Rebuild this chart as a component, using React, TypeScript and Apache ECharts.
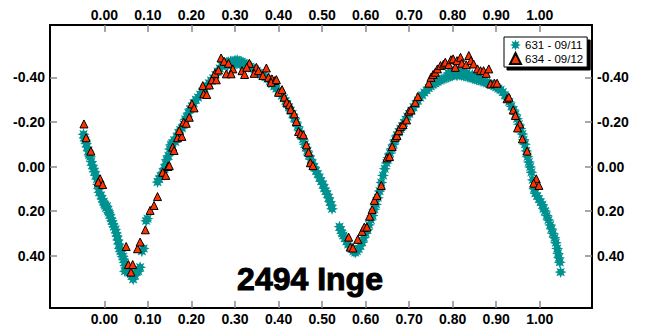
import React, { useEffect, useRef } from 'react';
import * as echarts from 'echarts';

const X_TICKS = [0, 0.1, 0.2, 0.3, 0.4, 0.5, 0.6, 0.7, 0.8, 0.9, 1.0];
const Y_TICKS = [-0.4, -0.2, 0, 0.2, 0.4];
const LEGEND_NAMES = ['631 - 09/11', '634 - 09/12'];
const TITLE = '2494 Inge';

// session 631 (09/11): [phase, magnitude]
const data631: [number, number][] = [
  [-0.048, -0.145], [-0.046, -0.128], [-0.044, -0.118], [-0.042, -0.104], [-0.040, -0.088], [-0.037, -0.070],
  [-0.035, -0.052], [-0.033, -0.044], [-0.030, -0.022], [-0.028, -0.006], [-0.025, 0.010], [-0.023, 0.022],
  [-0.020, 0.040], [-0.017, 0.056], [-0.015, 0.080], [-0.013, 0.100], [-0.012, 0.116], [-0.008, 0.130],
  [-0.005, 0.146], [-0.002, 0.158], [0.000, 0.168], [0.002, 0.176], [0.004, 0.186], [0.006, 0.178],
  [0.008, 0.196], [0.010, 0.206], [0.012, 0.214], [0.015, 0.232], [0.017, 0.244], [0.020, 0.258],
  [0.022, 0.270], [0.025, 0.282], [0.027, 0.298], [0.029, 0.312], [0.031, 0.330], [0.033, 0.348],
  [0.035, 0.368], [0.037, 0.380], [0.040, 0.392], [0.042, 0.404], [0.044, 0.416], [0.046, 0.430],
  [0.048, 0.444], [0.050, 0.456], [0.047, 0.470], [0.052, 0.464], [0.055, 0.472], [0.058, 0.476],
  [0.061, 0.482], [0.063, 0.490], [0.066, 0.506], [0.070, 0.488], [0.074, 0.472], [0.078, 0.470],
  [0.082, 0.452], [0.086, 0.380], [0.090, 0.368], [0.096, 0.244], [0.099, 0.234],
  [0.122, 0.070], [0.126, 0.056], [0.129, 0.044], [0.134, 0.026], [0.138, 0.008], [0.141, -0.010],
  [0.143, -0.030], [0.147, -0.048], [0.150, -0.078], [0.153, -0.098], [0.156, -0.106], [0.160, -0.118],
  [0.163, -0.110], [0.166, -0.132], [0.170, -0.150], [0.174, -0.164], [0.178, -0.172], [0.182, -0.190],
  [0.186, -0.212], [0.189, -0.222], [0.193, -0.240], [0.197, -0.258], [0.201, -0.270], [0.205, -0.284],
  [0.210, -0.300], [0.215, -0.310], [0.220, -0.322], [0.225, -0.336], [0.230, -0.350], [0.235, -0.360],
  [0.240, -0.374], [0.245, -0.386], [0.250, -0.396], [0.255, -0.410], [0.260, -0.426], [0.265, -0.440],
  [0.270, -0.452], [0.272, -0.470], [0.275, -0.458], [0.280, -0.464], [0.283, -0.452], [0.285, -0.468],
  [0.290, -0.472], [0.292, -0.458], [0.295, -0.470], [0.300, -0.476], [0.302, -0.462], [0.305, -0.478],
  [0.310, -0.472], [0.312, -0.456], [0.315, -0.470], [0.320, -0.464], [0.322, -0.448], [0.325, -0.460],
  [0.330, -0.454], [0.335, -0.448], [0.340, -0.440], [0.345, -0.436], [0.350, -0.428], [0.355, -0.420],
  [0.360, -0.414], [0.365, -0.408], [0.370, -0.400], [0.375, -0.394], [0.380, -0.382], [0.385, -0.370],
  [0.390, -0.360], [0.395, -0.350], [0.400, -0.340], [0.404, -0.330], [0.408, -0.318], [0.412, -0.306],
  [0.416, -0.294], [0.420, -0.280], [0.424, -0.266], [0.428, -0.250], [0.432, -0.236], [0.436, -0.218],
  [0.440, -0.200], [0.444, -0.180], [0.448, -0.160], [0.452, -0.140], [0.456, -0.122], [0.460, -0.100],
  [0.463, -0.086], [0.466, -0.070], [0.470, -0.050], [0.474, -0.032], [0.478, -0.014], [0.482, 0.002],
  [0.486, 0.020], [0.490, 0.034], [0.494, 0.050], [0.498, 0.066], [0.502, 0.080], [0.505, 0.098],
  [0.508, 0.110], [0.512, 0.124], [0.515, 0.140], [0.518, 0.158], [0.521, 0.174], [0.523, 0.190],
  [0.540, 0.270], [0.543, 0.286], [0.546, 0.300], [0.549, 0.310], [0.552, 0.322], [0.556, 0.336],
  [0.560, 0.350], [0.564, 0.360], [0.568, 0.370], [0.572, 0.380], [0.576, 0.386], [0.580, 0.380],
  [0.584, 0.370], [0.588, 0.356], [0.592, 0.340], [0.596, 0.320], [0.600, 0.300], [0.604, 0.284],
  [0.608, 0.262], [0.612, 0.240], [0.616, 0.220], [0.620, 0.192], [0.624, 0.170], [0.628, 0.140],
  [0.632, 0.110], [0.636, 0.072], [0.640, 0.040], [0.644, 0.010], [0.648, -0.016], [0.652, -0.040],
  [0.656, -0.060], [0.660, -0.080], [0.664, -0.100], [0.668, -0.120], [0.672, -0.140], [0.676, -0.154],
  [0.680, -0.170], [0.684, -0.180], [0.688, -0.196], [0.692, -0.210], [0.696, -0.224], [0.700, -0.236],
  [0.705, -0.250], [0.710, -0.266], [0.715, -0.280], [0.720, -0.296], [0.725, -0.310], [0.730, -0.320],
  [0.735, -0.332], [0.740, -0.342], [0.745, -0.352], [0.750, -0.360], [0.755, -0.368], [0.760, -0.374],
  [0.765, -0.380], [0.770, -0.386], [0.775, -0.390], [0.780, -0.394], [0.785, -0.398], [0.790, -0.402],
  [0.790, -0.420], [0.795, -0.406], [0.800, -0.408], [0.800, -0.425], [0.805, -0.412], [0.810, -0.408],
  [0.812, -0.428], [0.815, -0.412], [0.820, -0.410], [0.822, -0.424], [0.825, -0.408], [0.830, -0.406],
  [0.832, -0.420], [0.835, -0.402], [0.840, -0.400], [0.845, -0.396], [0.845, -0.412], [0.850, -0.394],
  [0.855, -0.390], [0.860, -0.388], [0.860, -0.402], [0.865, -0.384], [0.870, -0.382], [0.875, -0.378],
  [0.880, -0.374], [0.885, -0.372], [0.890, -0.366], [0.895, -0.362], [0.900, -0.356], [0.905, -0.350],
  [0.910, -0.344], [0.915, -0.334], [0.920, -0.320], [0.925, -0.304], [0.930, -0.290], [0.935, -0.270],
  [0.940, -0.254], [0.944, -0.234], [0.948, -0.214], [0.952, -0.190], [0.956, -0.170], [0.960, -0.146],
  [0.963, -0.120], [0.966, -0.100], [0.969, -0.070], [0.972, -0.044], [0.975, -0.020], [0.978, 0.002],
  [0.981, 0.026], [0.984, 0.060], [0.987, 0.100], [0.990, 0.120], [0.994, 0.132], [0.998, 0.146],
  [1.002, 0.160], [1.006, 0.172], [1.009, 0.190], [1.012, 0.200], [1.016, 0.220], [1.020, 0.240],
  [1.024, 0.262], [1.027, 0.280], [1.030, 0.300], [1.034, 0.320], [1.037, 0.342], [1.040, 0.368],
  [1.042, 0.390], [1.044, 0.410], [1.046, 0.430], [1.048, 0.474],
];

// session 634 (09/12): [phase, magnitude]
const data634: [number, number][] = [
  [-0.047, -0.191], [-0.042, -0.129], [-0.031, -0.069], [-0.010, 0.055], [-0.014, 0.070], [-0.004, 0.081],
  [0.050, 0.359], [0.055, 0.440], [0.065, 0.440], [0.061, 0.474], [0.076, 0.369], [0.082, 0.339],
  [0.094, 0.284], [0.105, 0.197], [0.114, 0.175], [0.122, 0.135], [0.134, 0.026], [0.141, 0.040],
  [0.146, 0.000], [0.149, -0.004], [0.157, -0.087], [0.160, -0.072], [0.168, -0.129], [0.178, -0.135],
  [0.172, -0.161], [0.182, -0.199], [0.188, -0.194], [0.195, -0.221], [0.201, -0.281], [0.206, -0.263],
  [0.228, -0.326], [0.235, -0.323], [0.226, -0.363], [0.241, -0.366], [0.247, -0.389], [0.257, -0.389],
  [0.254, -0.418], [0.262, -0.433], [0.268, -0.487], [0.275, -0.472], [0.285, -0.463], [0.295, -0.438],
  [0.280, -0.416], [0.291, -0.416], [0.316, -0.430], [0.322, -0.413], [0.333, -0.463], [0.327, -0.445],
  [0.349, -0.445], [0.344, -0.418], [0.354, -0.430], [0.364, -0.408], [0.372, -0.442], [0.377, -0.400],
  [0.385, -0.393], [0.392, -0.386], [0.383, -0.378], [0.395, -0.390], [0.400, -0.333], [0.408, -0.345],
  [0.413, -0.311], [0.419, -0.288], [0.425, -0.277], [0.428, -0.256], [0.436, -0.236], [0.441, -0.202],
  [0.446, -0.157], [0.451, -0.147], [0.457, -0.142], [0.464, -0.097], [0.469, -0.064], [0.473, -0.017],
  [0.479, -0.004],
  [0.561, 0.317], [0.565, 0.362], [0.571, 0.366], [0.582, 0.327], [0.592, 0.291], [0.597, 0.272],
  [0.603, 0.272], [0.609, 0.223], [0.615, 0.193], [0.620, 0.152], [0.626, 0.130], [0.636, 0.085],
  [0.649, -0.039], [0.655, -0.045], [0.661, -0.090], [0.668, -0.131], [0.672, -0.139], [0.676, -0.161],
  [0.680, -0.179], [0.686, -0.188], [0.694, -0.209], [0.699, -0.248], [0.704, -0.254], [0.714, -0.288],
  [0.720, -0.314], [0.745, -0.374], [0.750, -0.400], [0.755, -0.413], [0.760, -0.423], [0.765, -0.438],
  [0.772, -0.453], [0.779, -0.460], [0.783, -0.468], [0.791, -0.457], [0.796, -0.479], [0.801, -0.483],
  [0.806, -0.445], [0.810, -0.475], [0.818, -0.490], [0.821, -0.463], [0.831, -0.457], [0.837, -0.498],
  [0.842, -0.475], [0.848, -0.460], [0.857, -0.438], [0.864, -0.430], [0.871, -0.430], [0.877, -0.418],
  [0.883, -0.438], [0.887, -0.371], [0.896, -0.374], [0.902, -0.374], [0.925, -0.304], [0.929, -0.311],
  [0.939, -0.254], [0.944, -0.229], [0.954, -0.191], [0.949, -0.173], [0.960, -0.124], [0.971, -0.069],
  [0.992, 0.055], [0.986, 0.075], [0.998, 0.085],
];

const STAR =
  'path://M20 10 L14.8 11.99 L17.07 17.07 L11.99 14.8 L10 20 L8.01 14.8 L2.93 17.07 L5.2 11.99 L0 10 L5.2 8.01 L2.93 2.93 L8.01 5.2 L10 0 L11.99 5.2 L17.07 2.93 L14.8 8.01 Z';

const FONT = '"Liberation Sans", Arial, Helvetica, sans-serif';

function axisCommon(ticks: number[], position: string, margin: number) {
  return {
    type: 'value' as const,
    position,
    axisLine: { show: true, onZero: false, lineStyle: { color: '#000', width: 2 } },
    axisTick: { show: true, inside: true, length: 7, customValues: ticks, lineStyle: { color: '#8a8a8a', width: 1.5 } },
    axisLabel: {
      show: true,
      customValues: ticks,
      formatter: (v: number) => v.toFixed(2),
      color: '#000',
      fontWeight: 'bold',
      fontSize: 14,
      fontFamily: FONT,
      margin,
    },
    splitLine: { show: false },
  };
}

export default function App() {
  const ref = useRef<HTMLDivElement>(null);
  useEffect(() => {
    if (!ref.current) return;
    const chart = echarts.init(ref.current, undefined, { renderer: 'svg' });
    chart.setOption({
      animation: false,
      backgroundColor: '#fff',
      grid: { left: 50, right: 55, top: 25, bottom: 27, containLabel: false },
      xAxis: [
        { ...axisCommon(X_TICKS, 'bottom', 4), min: -0.125, max: 1.12 },
        { ...axisCommon(X_TICKS, 'top', 3), min: -0.125, max: 1.12 },
      ],
      yAxis: [
        { ...axisCommon(Y_TICKS, 'left', 5), min: -0.635, max: 0.635, inverse: true },
        { ...axisCommon(Y_TICKS, 'right', 5), min: -0.635, max: 0.635, inverse: true },
      ],
      legend: {
        data: LEGEND_NAMES,
        orient: 'vertical',
        left: 504,
        top: 37,
        padding: [2, 4, 2, 5],
        itemGap: 1,
        itemWidth: 11,
        itemHeight: 11,
        backgroundColor: '#fff',
        borderColor: '#000',
        borderWidth: 1,
        shadowColor: '#000',
        shadowOffsetX: 3,
        shadowOffsetY: 3,
        shadowBlur: 0,
        textStyle: { fontSize: 11.5, fontFamily: FONT, color: '#000', padding: [0, 0, 0, -1] },
      },
      graphic: [
        {
          type: 'text',
          x: 310,
          y: 279,
          style: {
            text: TITLE,
            font: 'bold 32px ' + FONT,
            fill: '#000',
            stroke: '#000',
            lineWidth: 1,
            textAlign: 'center',
            textVerticalAlign: 'middle',
          },
          z: 10,
        },
      ],
      series: [
        {
          type: 'scatter',
          name: LEGEND_NAMES[0],
          xAxisIndex: 0,
          yAxisIndex: 0,
          data: data631,
          symbol: STAR,
          symbolSize: 12,
          itemStyle: { color: '#009191', opacity: 1 },
          z: 2,
        },
        {
          type: 'scatter',
          name: LEGEND_NAMES[1],
          xAxisIndex: 0,
          yAxisIndex: 0,
          data: data634,
          symbol: 'triangle',
          symbolSize: 8,
          itemStyle: { color: '#ff3300', borderColor: '#000', borderWidth: 1, opacity: 1 },
          z: 3,
        },
      ],
    });
    return () => chart.dispose();
  }, []);
  return (
    <div
      ref={ref}
      style={{ position: 'fixed', left: 0, top: 0, width: 647, height: 335 }}
    />
  );
}
